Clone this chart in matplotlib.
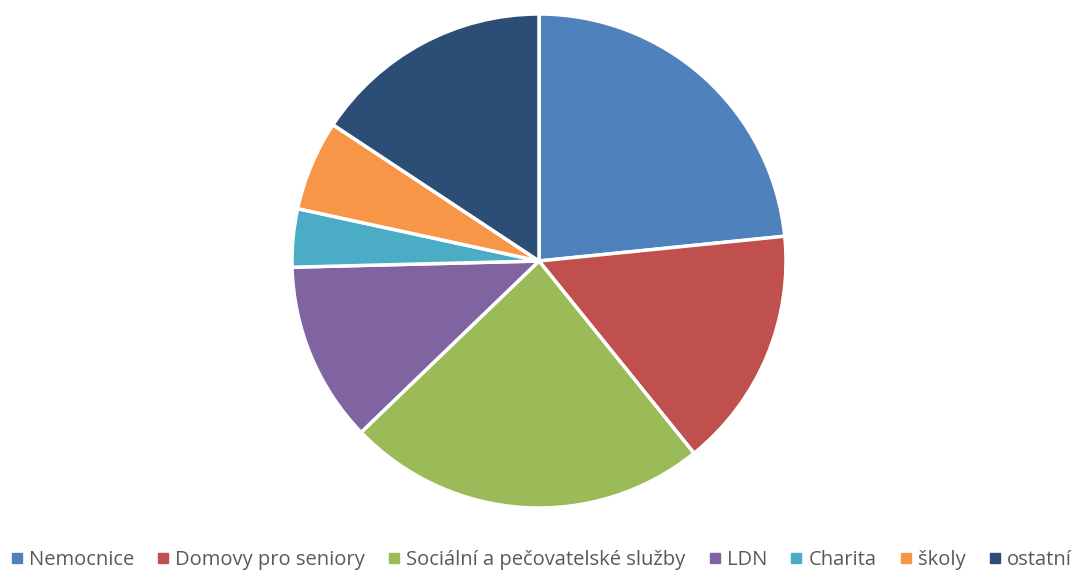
import matplotlib.pyplot as plt
from matplotlib.lines import Line2D

labels = ["Nemocnice", "Domovy pro seniory", "Sociální a pečovatelské služby",
          "LDN", "Charita", "školy", "ostatní"]
shares = [23.4, 15.8, 23.6, 11.8, 3.8, 5.9, 15.7]
colors = ["#4F81BD", "#C0504D", "#9BBB59", "#8064A2", "#4BACC6", "#F79646", "#2C4D75"]

W, H = 1083, 572
fig = plt.figure(figsize=(W / 100, H / 100), dpi=100)

# pie centre and radius in pixels
cx, cy, r = 539, 261, 247
ax = fig.add_axes([(cx - r) / W, (H - cy - r) / H, 2 * r / W, 2 * r / H])
ax.pie(shares, colors=colors, startangle=90, counterclock=False,
       wedgeprops=dict(edgecolor="white", linewidth=2.5))
ax.set_xlim(-1, 1)
ax.set_ylim(-1, 1)
ax.set_axis_off()

handles = [Line2D([], [], marker="s", linestyle="none", markersize=6.5,
                  markerfacecolor=c, markeredgecolor=c) for c in colors]
fig.legend(handles, labels, loc="center", bbox_to_anchor=(0.5, 1 - 560 / H),
           ncol=7, frameon=False, handlelength=0.5,
           handletextpad=0.35, columnspacing=1.2, labelcolor="#595959",
           prop={"family": "Open Sans", "size": 14.5})

fig.savefig("out.png", dpi=100)
